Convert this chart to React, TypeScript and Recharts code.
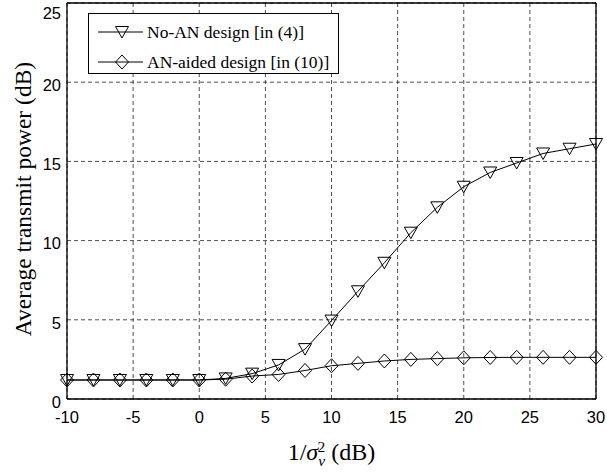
import React from "react";
import {
  LineChart,
  Line,
  XAxis,
  YAxis,
  CartesianGrid,
  Legend,
  ReferenceLine,
  Label,
} from "recharts";

// x: 1/sigma_v^2 in dB
const snrDb = [-10, -8, -6, -4, -2, 0, 2, 4, 6, 8, 10, 12, 14, 16, 18, 20, 22, 24, 26, 28, 30];
// average transmit power (dB)
const noAnPower = [1.2, 1.2, 1.2, 1.2, 1.2, 1.2, 1.3, 1.6, 2.15, 3.15, 4.95, 6.8, 8.6, 10.5, 12.1, 13.4, 14.3, 14.9, 15.5, 15.8, 16.1];
const anAidedPower = [1.2, 1.2, 1.2, 1.2, 1.2, 1.2, 1.25, 1.45, 1.55, 1.8, 2.1, 2.25, 2.4, 2.5, 2.55, 2.6, 2.62, 2.63, 2.63, 2.63, 2.63];

const xTicks = [-10, -5, 0, 5, 10, 15, 20, 25, 30];
const yTicks = [0, 5, 10, 15, 20, 25];

const seriesNames = ["No-AN design [in (4)]", "AN-aided design [in (10)]"];

const data = snrDb.map((x, i) => ({ x, noAn: noAnPower[i], anAided: anAidedPower[i] }));

const SANS = "'Liberation Sans', Arial, sans-serif";
const SERIF = "'Liberation Serif', 'Times New Roman', serif";

const TriangleDown = (props: any) => {
  const { cx, cy } = props;
  if (cx == null || cy == null) return null;
  return (
    <path
      d={`M${cx - 6.5},${cy - 5.5} L${cx + 6.5},${cy - 5.5} L${cx},${cy + 6} Z`}
      fill="none"
      stroke="#000"
      strokeWidth={1}
    />
  );
};

const Diamond = (props: any) => {
  const { cx, cy } = props;
  if (cx == null || cy == null) return null;
  return (
    <path
      d={`M${cx},${cy - 7} L${cx + 6.5},${cy} L${cx},${cy + 7} L${cx - 6.5},${cy} Z`}
      fill="none"
      stroke="#000"
      strokeWidth={1}
    />
  );
};

const LegendBox = () => (
  <svg width={251} height={61} style={{ display: "block" }}>
    <rect x={0.5} y={0.5} width={250} height={60} fill="#fff" stroke="#000" strokeWidth={1} />
    {seriesNames.map((name, i) => {
      const cy = 19 + i * 30;
      return (
        <g key={name}>
          <line x1={10} x2={55} y1={cy} y2={cy} stroke="#000" strokeWidth={1} />
          {i === 0 ? <TriangleDown cx={34} cy={cy} /> : <Diamond cx={34} cy={cy} />}
          <text x={59} y={cy + 6} fontFamily={SERIF} fontSize={17.5} fill="#000">
            {name}
          </text>
        </g>
      );
    })}
  </svg>
);

const XLabel = (props: any) => {
  const { x, y, width } = props.viewBox;
  return (
    <text x={x + width / 2} y={y + 61} textAnchor="middle" fontFamily={SERIF} fontSize={24} fill="#000">
      1/
      <tspan fontStyle="italic">σ</tspan>
      <tspan fontStyle="italic" fontSize={15.5} dy={6}>v</tspan>
      <tspan fontSize={15.5} dx={-7.5} dy={-14}>2</tspan>
      <tspan dy={8}> (dB)</tspan>
    </text>
  );
};

const YLabel = (props: any) => {
  const { y, height } = props.viewBox;
  const cy = y + height / 2 - 2;
  return (
    <text
      x={31}
      y={cy}
      transform={`rotate(-90, 31, ${cy})`}
      textAnchor="middle"
      fontFamily={SERIF}
      fontSize={23.5}
      fill="#000"
    >
      Average transmit power (dB)
    </text>
  );
};

export default function App() {
  return (
    <div style={{ position: "absolute", left: 0, top: 0, background: "#fff" }}>
      <LineChart width={607} height={473} data={data} margin={{ top: 3, right: 11, bottom: 0, left: 0 }}>
        <CartesianGrid stroke="#222" strokeWidth={0.8} strokeDasharray="4 3" />
        <XAxis
          dataKey="x"
          type="number"
          domain={[-10, 30]}
          ticks={xTicks}
          height={74}
          tickLine={false}
          tickSize={6}
          tickMargin={6}
          axisLine={{ stroke: "#000", strokeWidth: 1.3 }}
          tick={{ fontFamily: SANS, fontSize: 16.5, fill: "#000" }}
        >
          <Label content={XLabel} />
        </XAxis>
        <YAxis
          type="number"
          domain={[0, 25]}
          ticks={yTicks}
          width={67}
          tickLine={false}
          tickSize={0}
          tickMargin={6}
          axisLine={{ stroke: "#000", strokeWidth: 1.3 }}
          tick={{ fontFamily: SANS, fontSize: 16.5, fill: "#000", dy: 3 }}
        >
          <Label content={YLabel} />
        </YAxis>
        <ReferenceLine x={30} stroke="#000" strokeWidth={1.3} />
        <ReferenceLine y={25} stroke="#000" strokeWidth={1.3} />
        <Line
          type="linear"
          dataKey="noAn"
          name={seriesNames[0]}
          stroke="#000"
          strokeWidth={1}
          dot={<TriangleDown />}
          activeDot={false}
          isAnimationActive={false}
        />
        <Line
          type="linear"
          dataKey="anAided"
          name={seriesNames[1]}
          stroke="#000"
          strokeWidth={1}
          dot={<Diamond />}
          activeDot={false}
          isAnimationActive={false}
        />
        <Legend
          verticalAlign="middle"
          align="center"
          layout="horizontal"
          content={LegendBox}
          wrapperStyle={{ left: 88, top: 13, width: 251, height: 61 }}
        />
      </LineChart>
    </div>
  );
}
